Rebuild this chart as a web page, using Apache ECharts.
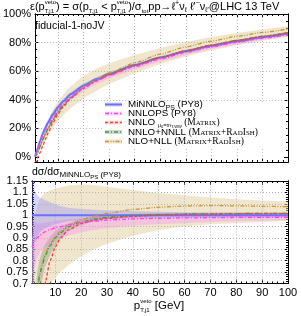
<!DOCTYPE html>
<html><head><meta charset="utf-8">
<script src="https://cdn.jsdelivr.net/npm/echarts@6/dist/echarts.min.js"></script>
<style>html,body{margin:0;padding:0;background:#fff}#c{width:301px;height:316px}</style>
</head><body><div id="c"></div>
<script>
// ---------------- data ----------------
const pt = [1,1.8,2,3,4,5,6,8,10,12,15,20,25,30,40,50,60,70,80,90,100];
// MiNNLO_PS efficiency in %
const effMiNNLO = [0.5,5,6.2,11.5,16.5,20.5,24,30,35,39,44,50,54.5,58.3,64.3,69.5,74,77.8,81,83.8,86.3];
// ratios to MiNNLO_PS
const minnloHi = [1.2,1.2,1.105,1.088,1.078,1.072,1.067,1.058,1.048,1.04,1.033,1.027,1.024,1.022,1.018,1.015,1.013,1.012,1.011,1.01,1.01];
const minnloLo = [0.6,0.6,0.88,0.905,0.925,0.935,0.943,0.953,0.96,0.966,0.973,0.979,0.982,0.984,0.987,0.988,0.989,0.99,0.99,0.991,0.991];
const nnlopsC  = [0.86,0.88,0.885,0.9,0.91,0.92,0.927,0.937,0.945,0.95,0.958,0.968,0.974,0.978,0.984,0.986,0.988,0.989,0.99,0.99,0.991];
const nnlopsHi = [0.99,0.975,0.97,0.965,0.965,0.965,0.967,0.97,0.975,0.978,0.982,0.987,0.99,0.992,0.995,0.996,0.997,0.997,0.998,0.998,0.998];
const nnlopsLo = [0.74,0.765,0.77,0.81,0.835,0.85,0.86,0.875,0.89,0.9,0.91,0.925,0.935,0.943,0.953,0.96,0.965,0.97,0.973,0.976,0.978];
const nnloC    = [-6,-0.6,0.0,0.28,0.47,0.6,0.7,0.8,0.86,0.9,0.935,0.963,0.978,0.986,0.995,1.0,1.003,1.005,1.006,1.007,1.007];
const nnllC    = [0.2,0.45,0.5,0.67,0.74,0.78,0.82,0.865,0.9,0.922,0.948,0.97,0.983,0.99,0.998,1.002,1.005,1.006,1.007,1.008,1.008];
const nnllHi   = [0.4,0.58,0.62,0.75,0.81,0.845,0.87,0.905,0.93,0.948,0.965,0.983,0.993,0.998,1.005,1.008,1.01,1.011,1.012,1.012,1.013];
const nnllLo   = [0.0,0.33,0.38,0.59,0.67,0.72,0.77,0.825,0.865,0.895,0.93,0.957,0.972,0.982,0.991,0.996,0.999,1.001,1.002,1.003,1.003];
const nllC     = [0.2,0.43,0.48,0.66,0.74,0.79,0.83,0.875,0.905,0.93,0.955,0.98,0.996,1.008,1.025,1.035,1.04,1.042,1.041,1.039,1.037];
const nllHi    = [0.9,0.98,1.0,1.04,1.07,1.085,1.097,1.11,1.117,1.122,1.13,1.135,1.132,1.125,1.11,1.097,1.087,1.078,1.07,1.064,1.06];
const nllLo    = [0.0,0.15,0.2,0.35,0.45,0.53,0.6,0.69,0.725,0.75,0.78,0.82,0.85,0.875,0.91,0.935,0.95,0.96,0.965,0.97,0.975];
// ticks
const xMajor = [10,20,30,40,50,60,70,80,90,100];
const xMinor = [2,4,6,8,12,14,16,18,22,24,26,28,32,34,36,38,42,44,46,48,52,54,56,58,62,64,66,68,72,74,76,78,82,84,86,88,92,94,96,98];
const yTopMajor = [0,20,40,60,80,100];
const yTopMinor = [5,10,15,25,30,35,45,50,55,65,70,75,85,90,95];
const yBotMajor = [0.7,0.75,0.8,0.85,0.9,0.95,1,1.05,1.1,1.15];
const yBotMinor = [0.71,0.72,0.73,0.74,0.76,0.77,0.78,0.79,0.81,0.82,0.83,0.84,0.86,0.87,0.88,0.89,0.91,0.92,0.93,0.94,0.96,0.97,0.98,0.99,1.01,1.02,1.03,1.04,1.06,1.07,1.08,1.09,1.11,1.12,1.13,1.14];

// ---------------- helpers ----------------
const SANS = '"Liberation Sans", Arial, sans-serif';
const SERIF = '"Liberation Serif", "Times New Roman", serif';
const X_MIN = 1, X_MAX = 100;
const mctx = document.createElement('canvas').getContext('2d');
function tw(t, s, f){ mctx.font = s + 'px ' + f; return mctx.measureText(t).width; }
function txt(t, x, yb, s, f, c){
  return {type:'text', silent:true, z:100, style:{text:t, x:x, y:yb - 0.35*s, font: s+'px '+f, fill:c||'#000', textAlign:'left', align:'left', textVerticalAlign:'middle', verticalAlign:'middle'}};
}
function richLine(parts, x0, yb, align){
  let w = 0;
  parts.forEach(p => { const f = p.f||SANS; p.w = p.stack ? Math.max(tw(p.stack[0],p.s,f), tw(p.stack[1],p.s,f)) : tw(p.t,p.s,f); w += p.w; });
  let x = align === 'center' ? x0 - w/2 : x0;
  const els = [];
  parts.forEach(p => {
    const f = p.f||SANS;
    if (p.stack) {
      els.push(txt(p.stack[0], x, yb + (p.up!==undefined?p.up:-5), p.s, f));
      els.push(txt(p.stack[1], x, yb + (p.dn!==undefined?p.dn:2.5), p.s, f));
    } else els.push(txt(p.t, x, yb + (p.dy||0), p.s, f));
    x += p.w;
  });
  return els;
}

function xAx(g, pos, vals, len, labels){
  return {type:'value', gridIndex:g, position:pos, min:X_MIN, max:X_MAX,
    axisLine:{show:true, onZero:false, lineStyle:{color:'#000', width:1}},
    axisTick:{show:true, inside:true, length:len, customValues:vals, lineStyle:{color:'#000', width:1}},
    axisLabel:labels ? {show:true, customValues:vals, fontSize:11, fontFamily:SANS, color:'#000', margin:4} : {show:false},
    splitLine:{show:false}};
}
function yAx(g, pos, mn, mx, vals, len, fmt){
  return {type:'value', gridIndex:g, position:pos, min:mn, max:mx,
    axisLine:{show:true, onZero:false, lineStyle:{color:'#000', width:1}},
    axisTick:{show:true, inside:true, length:len, customValues:vals, lineStyle:{color:'#000', width:1}},
    axisLabel:fmt ? {show:true, customValues:vals, fontSize:11, fontFamily:SANS, color:'#000', margin:4, formatter:fmt} : {show:false},
    splitLine:{show:false}};
}

const SM = 0.2;
function mul(arr, scale){ return pt.map((x,i) => [x, scale ? arr[i]*scale[i] : arr[i]]); }
function band(xi, yi, lo, hi, color, z, scale){
  return {type:'custom', xAxisIndex:xi, yAxisIndex:yi, clip:true, silent:true, z:z, data:[[50, 0]], encode:{x:0, y:1},
    renderItem:(params, api) => {
      const top = pt.map((x,i) => api.coord([x, scale ? hi[i]*scale[i] : hi[i]]));
      const bot = pt.map((x,i) => api.coord([x, scale ? lo[i]*scale[i] : lo[i]])).reverse();
      return {type:'polygon', shape:{points: top.concat(bot)}, style:{fill:color}};
    }};
}
function line(xi, yi, data, color, width, type, z){
  return {type:'line', xAxisIndex:xi, yAxisIndex:yi, data:data, symbol:'none', showSymbol:false, smooth:SM, smoothMonotone:'x', silent:true, z:z,
    lineStyle:{color:color, width:width, type:type}};
}

const C = {
  minnlo:'#6e6eff', minnloBand:'rgba(120,120,255,0.3)',
  nnlops:'#ff3cff', nnlopsBand:'rgba(255,120,255,0.3)',
  nnlo:'#ff3c3c',
  nnll:'#3aa03a', nnllBand:'rgba(110,120,100,0.3)',
  nll:'#c8962c', nllBand:'rgba(225,205,155,0.5)'
};
const DASHDOT = [4,2,1,2], DASHED = [3,2], DASHDOTDOT = [4,1.5,1,1.5,1,1.5];

function gridLines(xi, yi, ys){
  return {type:'line', xAxisIndex:xi, yAxisIndex:yi, data:[[50, ys[0]]], symbol:'none', showSymbol:false, lineStyle:{width:0}, silent:true, z:0,
    markLine:{silent:true, symbol:'none', label:{show:false}, animation:false,
      lineStyle:{color:'#b4b4b4', type:[1,2], width:1},
      data: xMajor.filter(v => v < X_MAX).map(v => ({xAxis:v})).concat(ys.map(v => ({yAxis:v})))}};
}

const series = [];
// top panel: axis index 0
series.push(gridLines(0, 0, [20,40,60,80]));
series.push(band(0, 0, nllLo, nllHi, C.nllBand, 1, effMiNNLO));
series.push(band(0, 0, nnllLo, nnllHi, C.nnllBand, 2, effMiNNLO));
series.push(band(0, 0, nnlopsLo, nnlopsHi, C.nnlopsBand, 3, effMiNNLO));
series.push(band(0, 0, minnloLo, minnloHi, C.minnloBand, 4, effMiNNLO));
series.push(line(0, 0, mul(nllC, effMiNNLO), C.nll, 1.3, DASHDOTDOT, 6));
series.push(line(0, 0, mul(nnllC, effMiNNLO), C.nnll, 1.3, DASHDOT, 7));
series.push(line(0, 0, mul(nnloC, effMiNNLO), C.nnlo, 1.3, DASHED, 8));
series.push(line(0, 0, mul(nnlopsC, effMiNNLO), C.nnlops, 1.3, DASHDOT, 9));
series.push(line(0, 0, mul(effMiNNLO), C.minnlo, 2, 'solid', 5));
// bottom panel: axis index 4
const ones = pt.map(() => 1);
series.push(gridLines(4, 4, [0.75,0.8,0.85,0.9,0.95,1.05,1.1]));
series.push(band(4, 4, nllLo, nllHi, C.nllBand, 1));
series.push(band(4, 4, nnllLo, nnllHi, C.nnllBand, 2));
series.push(band(4, 4, nnlopsLo, nnlopsHi, C.nnlopsBand, 3));
series.push(band(4, 4, minnloLo, minnloHi, C.minnloBand, 4));
series.push(line(4, 4, mul(ones), C.minnlo, 2, 'solid', 5));
series.push(line(4, 4, mul(nllC), C.nll, 1.3, DASHDOTDOT, 6));
series.push(line(4, 4, mul(nnllC), C.nnll, 1.3, DASHDOT, 7));
series.push(line(4, 4, mul(nnloC), C.nnlo, 1.3, DASHED, 8));
series.push(line(4, 4, mul(nnlopsC), C.nnlops, 1.3, DASHDOT, 9));

const pctFmt = v => Math.round(v) + '%';
const ratioFmt = v => String(+(+v).toFixed(2));
const xAxis = [
  xAx(0,'bottom',xMajor,4,false), xAx(0,'bottom',xMinor,2,false), xAx(0,'top',xMajor,4,false), xAx(0,'top',xMinor,2,false),
  xAx(1,'bottom',xMajor,4,true),  xAx(1,'bottom',xMinor,2,false), xAx(1,'top',xMajor,4,false), xAx(1,'top',xMinor,2,false)
];
const yAxis = [
  yAx(0,'left',-3.5,100,yTopMajor,4,pctFmt), yAx(0,'left',-3.5,100,yTopMinor,2,null), yAx(0,'right',-3.5,100,yTopMajor,4,null), yAx(0,'right',-3.5,100,yTopMinor,2,null),
  yAx(1,'left',0.7,1.15,yBotMajor,4,ratioFmt), yAx(1,'left',0.7,1.15,yBotMinor,2,null), yAx(1,'right',0.7,1.15,yBotMajor,4,null), yAx(1,'right',0.7,1.15,yBotMinor,2,null)
];
// ---------------- texts ----------------
const g = [];
g.push(...richLine([
  {t:'ε(p', s:11}, {stack:['veto','T,j1'], s:6, up:-6.5, dn:2.5},
  {t:') = σ(p', s:11}, {t:'T,j1', s:6, dy:2.5},
  {t:' < p', s:11}, {stack:['veto','T,j1'], s:6, up:-6.5, dn:2.5},
  {t:')/σ', s:11}, {t:'tot', s:6, dy:2.5},
  {t:'pp→ℓ', s:11}, {t:'+', s:7, dy:-4.5}, {t:'ν', s:11}, {t:'ℓ', s:7, dy:2.5},
  {t:' ℓ\'', s:11}, {t:'−', s:7, dy:-4.5}, {t:'ν', s:11}, {t:'ℓ\'', s:7, dy:2.5},
  {t:'@LHC 13 TeV', s:11}
], 30, 10.5));
g.push(...richLine([{t:'fiducial-1-noJV', s:10.5}], 35, 29.5));
g.push(...richLine([{t:'dσ/dσ', s:10.5}, {t:'MiNNLO', s:8, dy:2.5}, {t:'PS', s:6, dy:4}, {t:' (PY8)', s:8, dy:2.5}], 32, 175.5));
g.push(...richLine([{t:'p', s:11.5}, {stack:['veto','T,j1'], s:6, up:-7, dn:2.5}, {t:' [GeV]', s:11.5}], 159, 310, 'center'));
// legend
g.push({type:'rect', silent:true, z:90, shape:{x:103, y:101.5, width:183, height:47}, style:{fill:'#fff'}});
const legendRows = [
  {y:104.5, c:C.minnlo, band:C.minnloBand, d:'solid', w:2, parts:[{t:'MiNNLO', s:9.8}, {t:'PS', s:7, dy:2.5}, {t:' (PY8)', s:9.8}]},
  {y:113.5, c:C.nnlops, band:C.nnlopsBand, d:DASHDOT, w:1.3, parts:[{t:'NNLOPS (PY8)', s:9.8}]},
  {y:122.5, c:C.nnlo, band:'rgba(255,120,120,0.25)', d:DASHED, w:1.3, parts:[{t:'NNLO ', s:9.8}, {t:'μ', s:5.5, dy:1}, {t:'0', s:4, dy:2}, {t:'=m', s:5.5, dy:1}, {t:'T,WW', s:4, dy:2}, {t:' (M', s:9.5, f:SERIF}, {t:'ATRIX', s:7, f:SERIF}, {t:')', s:9.5, f:SERIF}]},
  {y:132, c:C.nnll, band:C.nnllBand, d:DASHDOT, w:1.3, parts:[{t:'NNLO+NNLL ', s:9.8}, {t:'(M', s:9.5, f:SERIF}, {t:'ATRIX', s:7, f:SERIF}, {t:'+R', s:9.5, f:SERIF}, {t:'AD', s:7, f:SERIF}, {t:'I', s:9.5, f:SERIF}, {t:'SH', s:7, f:SERIF}, {t:')', s:9.5, f:SERIF}]},
  {y:141.5, c:C.nll, band:C.nllBand, d:DASHDOTDOT, w:1.3, parts:[{t:'NLO+NLL ', s:9.8}, {t:'(M', s:9.5, f:SERIF}, {t:'ATRIX', s:7, f:SERIF}, {t:'+R', s:9.5, f:SERIF}, {t:'AD', s:7, f:SERIF}, {t:'I', s:9.5, f:SERIF}, {t:'SH', s:7, f:SERIF}, {t:')', s:9.5, f:SERIF}]}
];
legendRows.forEach(r => {
  g.push({type:'rect', silent:true, z:95, shape:{x:105, y:r.y-2, width:17, height:4}, style:{fill:r.band}});
  g.push({type:'line', silent:true, z:96, shape:{x1:105, y1:r.y, x2:122, y2:r.y}, style:{stroke:r.c, lineWidth:r.w, lineDash:r.d==='solid'?null:r.d}});
  g.push(...richLine(r.parts, 128, r.y + 3.5));
});

const chart = echarts.init(document.getElementById('c'), null, {renderer:'canvas'});
chart.setOption({
  animation:false,
  backgroundColor:'#fff',
  grid:[{left:32, right:13, top:14, height:148}, {left:32, right:13, top:181, bottom:32.5}],
  xAxis:xAxis, yAxis:yAxis,
  series:series,
  graphic:g
});
</script></body></html>
